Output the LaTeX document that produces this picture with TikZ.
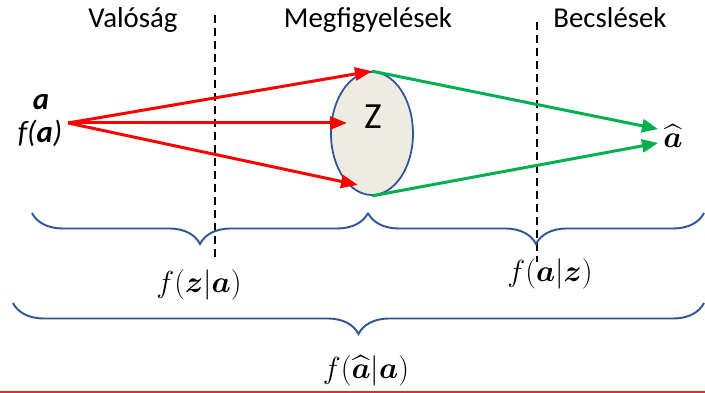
\documentclass[tikz,border=0pt]{standalone}
\usepackage{amsmath,amssymb}
\usepackage[no-math]{fontspec}
\setmainfont{Carlito}
\usepackage{tikz}
\usetikzlibrary{arrows.meta,positioning,shapes.geometric,decorations.pathreplacing,calc}
\definecolor{braceblue}{RGB}{47,85,151}
\definecolor{obsfill}{RGB}{238,236,225}
\definecolor{arrred}{RGB}{255,0,0}
\definecolor{arrgreen}{RGB}{0,176,80}
\definecolor{rulered}{RGB}{214,48,48}
\tikzset{
  zone/.style={font=\fontsize{16.4}{19}\selectfont,anchor=base,inner sep=0pt},
  sepline/.style={dash pattern=on 0.16cm off 0.1cm,line width=0.85pt},
  obsset/.style={ellipse,draw=braceblue,fill=obsfill,line width=1pt,
    minimum width=1.64cm,minimum height=2.46cm,inner sep=0pt},
  measflow/.style={-{Triangle[length=3.4mm,width=2.6mm]},arrred,line width=1.7pt},
  estflow/.style={-{Triangle[length=3.2mm,width=2.6mm]},arrgreen,line width=1.7pt},
  dens/.style={decorate,decoration={brace,mirror,amplitude=0.62cm},
    draw=braceblue,line width=1.1pt},
  pdf/.style={font=\fontsize{18}{22}\selectfont,inner sep=0pt},
}

\begin{document}
\begin{tikzpicture}
\useasboundingbox (0,0) rectangle (14.1,7.86);
% headings and separators
\node[zone] (real) at (2.66,7.3) {Valóság};
\node[zone] (meas) at (7.36,7.3) {Megfigyelések};
\node[zone] (est) at (12.2,7.3) {Becslések};
\draw[sepline] (4.3,7.56) -- (4.3,2.62);
\draw[sepline] (10.74,7.42) -- (10.74,2.62);
% observation set
\node[obsset] (obs) at (7.44,5.19) {};
\node[font=\fontsize{21}{24}\selectfont,inner sep=0pt] (zlab) at (7.46,5.52) {Z};
\node[font=\fontsize{17.5}{20}\selectfont\bfseries\itshape,anchor=base,inner sep=0pt] (avec) at (0.82,5.66) {a};
\node[font=\fontsize{17.5}{20}\selectfont\itshape,anchor=base,inner sep=0pt] (fa) at (0.8,5.0) {f(\textbf{a})};
\node[pdf,anchor=base] (ahat) at (13.46,4.9) {$\widehat{\boldsymbol{a}}$};
\coordinate (src) at (1.36,5.4);
\coordinate (hitmid) at (6.94,5.4);
\coordinate (hitlow) at (7.16,4.16);
\coordinate (estup) at (13.16,5.28);
\coordinate (estlow) at (13.16,5.0);
\draw[estflow] (obs.north) -- (estup);
\draw[estflow] (obs.south) -- (estlow);
\draw[measflow] (src) -- (obs.north);
\draw[measflow] (src) -- (hitmid);
\draw[measflow] (src) -- (hitlow);
% densities
\draw[dens] (0.64,3.6) -- (7.36,3.6);
\draw[dens] (7.36,3.6) -- (14.08,3.6);
\draw[dens] (0.26,1.8) -- (14.08,1.8);
\node[pdf] (fza) at (3.98,2.16) {$f(\boldsymbol{z}|\boldsymbol{a})$};
\node[pdf] (faz) at (11.0,2.39) {$f(\boldsymbol{a}|\boldsymbol{z})$};
\node[pdf] (fhat) at (7.32,0.44) {$f(\widehat{\boldsymbol{a}}|\boldsymbol{a})$};
\draw[rulered,line width=1.1pt] (0,0.02) -- (14.1,0.02);
\end{tikzpicture}
\end{document}
